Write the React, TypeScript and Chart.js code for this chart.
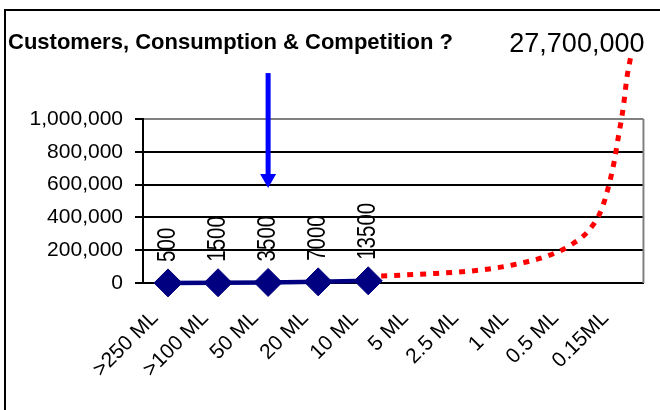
import { useEffect, useRef } from "react";
import { Chart, registerables } from "chart.js";

Chart.register(...registerables);

const categories = [">250 ML", ">100 ML", "50 ML", "20 ML", "10 ML", "5 ML", "2.5 ML", "1 ML", "0.5 ML", "0.15ML"];
const customers: (number | null)[] = [500, 1500, 3500, 7000, 13500, null, null, null, null, null];
// red projected curve: position along the category index and value
const trendPositions = [4, 5.33, 6.24, 6.93, 7.61, 8.05, 8.42, 8.66, 8.8, 8.91, 8.99, 9.1, 9.17, 9.24];
const trendValues = [40000, 58000, 79000, 113000, 168000, 232000, 325000, 447000, 586000, 732000, 875000, 1078000, 1253000, 1370000];
const yTicks = [0, 200000, 400000, 600000, 800000, 1000000];
const titleText = "Customers, Consumption & Competition ?";
const totalLabel = "27,700,000";
const arrowCategory = "50 ML";
const arrowFrom = 1280000;
const arrowTo = 580000;

const FONT = '"Liberation Sans", Arial, sans-serif';

const decor = {
  id: "decor",
  beforeDraw(chart: any) {
    const ctx = chart.ctx;
    ctx.save();
    ctx.fillStyle = "#ffffff";
    ctx.fillRect(0, 0, chart.width, chart.height);
    ctx.fillStyle = "#000000";
    ctx.fillRect(4, 9, 2, chart.height);
    ctx.fillRect(4, 9, chart.width, 2);
    ctx.restore();
  },
  beforeDatasetsDraw(chart: any) {
    const ctx = chart.ctx;
    const a = chart.chartArea;
    ctx.save();
    ctx.strokeStyle = "#808080";
    ctx.lineWidth = 2;
    ctx.beginPath();
    ctx.moveTo(a.right, a.top);
    ctx.lineTo(a.right, a.bottom);
    ctx.stroke();
    ctx.restore();
  },
  afterDatasetsDraw(chart: any) {
    const ctx = chart.ctx;
    const xs = chart.scales.x;
    const ys = chart.scales.y;
    ctx.save();
    // value labels, rotated
    ctx.fillStyle = "#000";
    ctx.font = `25px ${FONT}`;
    ctx.textAlign = "left";
    ctx.textBaseline = "alphabetic";
    customers.forEach((v, i) => {
      if (v == null) return;
      const px = xs.getPixelForValue(i);
      const py = ys.getPixelForValue(v);
      ctx.save();
      ctx.translate(px + 7, py - 21);
      ctx.rotate(-Math.PI / 2);
      ctx.scale(0.82, 1);
      ctx.fillText(String(v), 0, 0);
      ctx.restore();
    });
    // arrow
    const ax = xs.getPixelForValue(categories.indexOf(arrowCategory));
    const y0 = ys.getPixelForValue(arrowFrom);
    const y1 = ys.getPixelForValue(arrowTo);
    ctx.fillStyle = "#0000ff";
    ctx.fillRect(ax - 2.5, y0, 5, y1 - y0 - 13);
    ctx.beginPath();
    ctx.moveTo(ax - 8, y1 - 14);
    ctx.lineTo(ax + 8, y1 - 14);
    ctx.lineTo(ax, y1);
    ctx.closePath();
    ctx.fill();
    ctx.restore();
  },
  afterDraw(chart: any) {
    const ctx = chart.ctx;
    const a = chart.chartArea;
    ctx.save();
    ctx.fillStyle = "#000";
    ctx.textBaseline = "alphabetic";
    ctx.textAlign = "left";
    ctx.font = `bold 22px ${FONT}`;
    ctx.fillText(titleText, 8, 49);
    ctx.textAlign = "right";
    ctx.font = `27px ${FONT}`;
    ctx.fillText(totalLabel, a.right + 1, 51.5);
    ctx.restore();
  },
};

export default function App() {
  const ref = useRef<HTMLCanvasElement>(null);
  useEffect(() => {
    if (!ref.current) return;
    Chart.defaults.color = "#000";
    const chart = new Chart(ref.current, {
      type: "line",
      data: {
        labels: categories,
        datasets: [
          {
            label: "Customers",
            data: customers,
            xAxisID: "x",
            borderColor: "#000080",
            backgroundColor: "#000080",
            borderWidth: 4.5,
            pointStyle: "rectRot",
            pointRadius: 14,
            pointBorderWidth: 1,
            pointBackgroundColor: "#000080",
            pointBorderColor: "#000080",
            tension: 0,
            clip: false,
            order: 1,
          } as any,
          {
            label: "Projection",
            data: trendPositions.map((p, i) => ({ x: p, y: trendValues[i] })),
            xAxisID: "x2",
            borderColor: "#ff0000",
            borderWidth: 5,
            borderDash: [6, 7],
            borderCapStyle: "butt",
            pointRadius: 0,
            cubicInterpolationMode: "monotone",
            clip: false,
            order: 2,
          } as any,
        ],
      },
      options: {
        responsive: false,
        animation: false,
        layout: { padding: { top: 119, right: 12, left: 0, bottom: 0 } },
        plugins: { legend: { display: false }, tooltip: { enabled: false }, title: { display: false } },
        scales: {
          x: {
            type: "category",
            offset: true,
            grid: { display: false, drawTicks: false },
            border: { display: true, color: "#000", width: 2 },
            ticks: {
              autoSkip: false,
              minRotation: 45,
              maxRotation: 45,
              padding: 23,
              labelOffset: -13,
              color: "#000",
              font: { size: 21, family: FONT },
            },
            afterFit: (s: any) => {
              s.height = 127;
            },
          },
          x2: {
            type: "linear",
            display: false,
            min: -0.5,
            max: 9.5,
          },
          y: {
            min: 0,
            max: 1000000,
            afterBuildTicks: (s: any) => {
              s.ticks = yTicks.map((v) => ({ value: v }));
            },
            grid: {
              color: (c: any) => (c.tick && c.tick.value === 1000000 ? "#808080" : "#000"),
              lineWidth: 2,
              tickLength: 8,
              tickColor: "#000",
            },
            border: { display: true, color: "#000", width: 2 },
            ticks: {
              padding: 12,
              color: "#000",
              font: { size: 21, family: FONT },
              callback: (v: any) => Number(v).toLocaleString("en-US"),
            },
            afterFit: (s: any) => {
              s.width = 143;
            },
          },
        },
      },
      plugins: [decor],
    });
    return () => chart.destroy();
  }, []);
  return (
    <canvas
      ref={ref}
      width={660}
      height={410}
      style={{ position: "fixed", left: 0, top: 0, width: 660, height: 410 }}
    />
  );
}
